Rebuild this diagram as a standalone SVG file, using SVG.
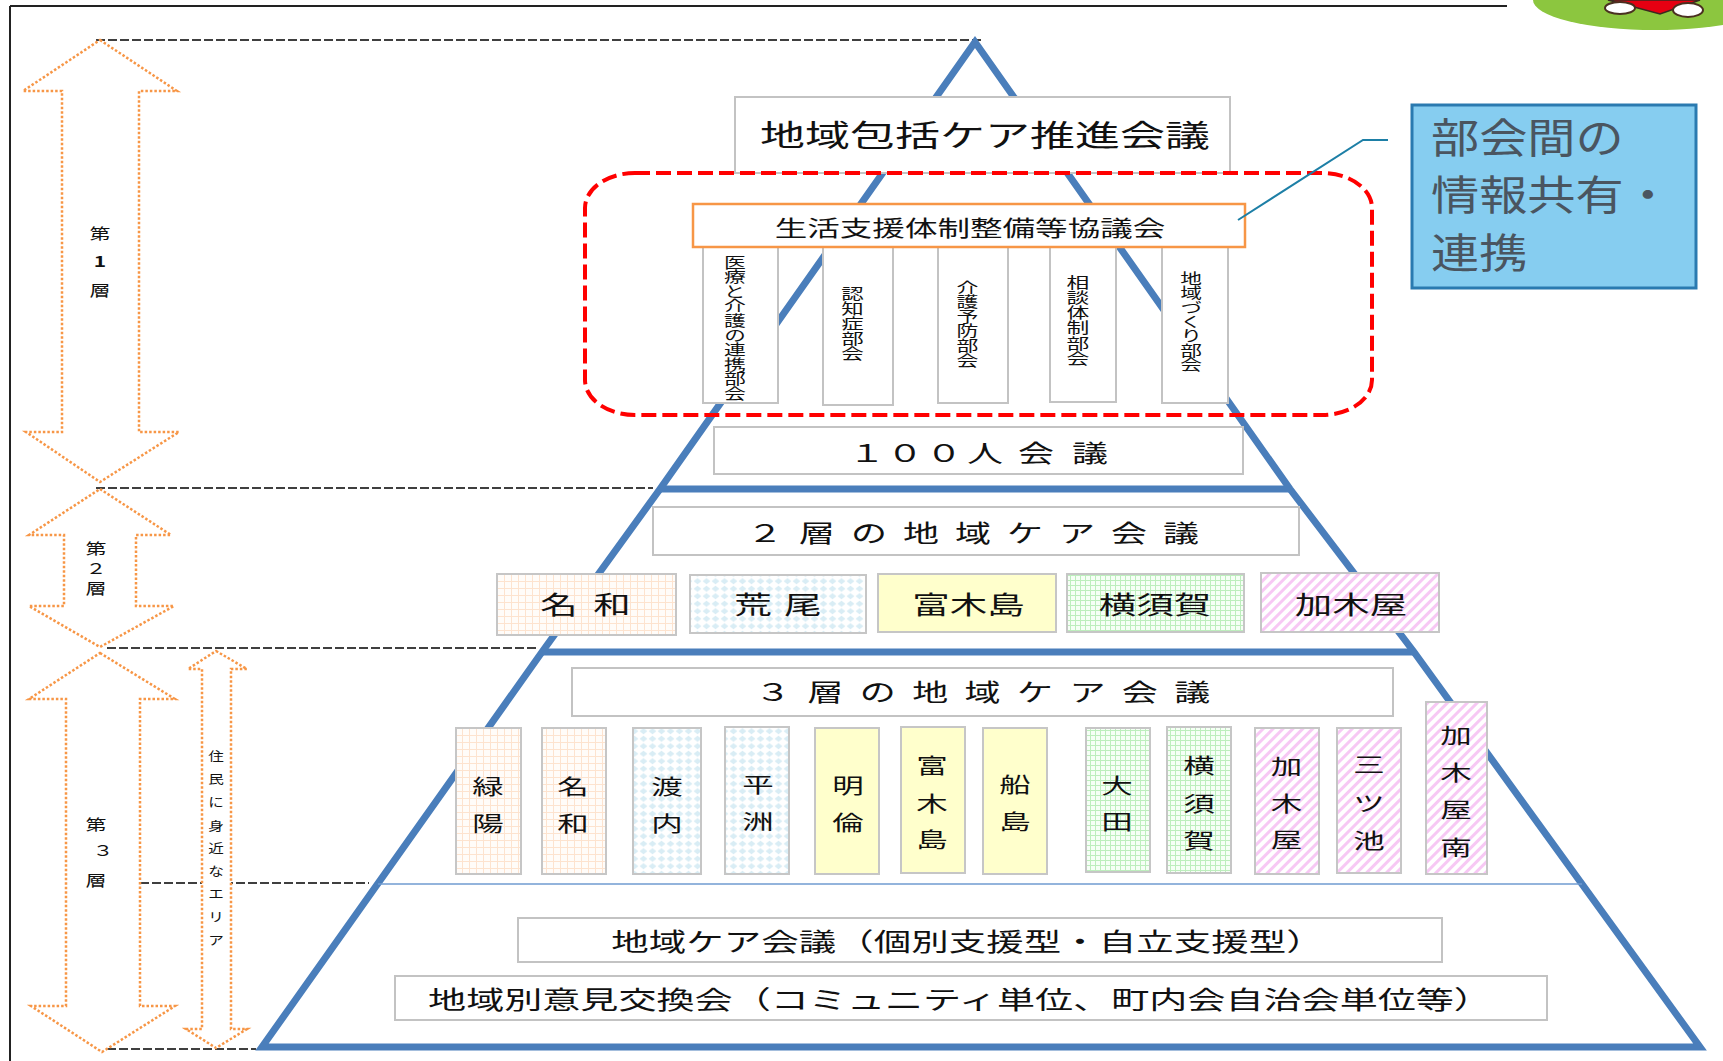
<svg xmlns="http://www.w3.org/2000/svg" width="1723" height="1061" viewBox="0 0 1723 1061">
  <style>
    .t { font-family: "Noto Sans CJK JP", "Noto Sans CJK SC", sans-serif; fill: #111; text-anchor: middle; dominant-baseline: central; }
    .vt { writing-mode: vertical-rl; text-orientation: upright; }
    .box { fill: #fff; stroke: #c3c3c3; stroke-width: 2; }
    .area { stroke: #c6c6c6; stroke-width: 2; }
    .pyr { fill: none; stroke: #4a7ebb; stroke-width: 7; stroke-linejoin: miter; }
    .guide { fill: none; stroke: #000; stroke-width: 1.5; stroke-dasharray: 9 3; }
    .arrow { fill: #fff; stroke: #f79646; stroke-width: 2.5; stroke-dasharray: 2.5 2; }
  </style>
  <defs>
    <pattern id="pGridOrange" width="7" height="7" patternUnits="userSpaceOnUse">
      <rect width="7" height="7" fill="#fffcf9"/>
      <path d="M0.5 0V7M0 0.5H7" stroke="#fde3cf" stroke-width="1"/>
    </pattern>
    <pattern id="pDiamond" width="9" height="7.5" patternUnits="userSpaceOnUse">
      <rect width="9" height="7.5" fill="#fff"/>
      <path d="M4.5 0.6L8.4 3.75L4.5 6.9L0.6 3.75Z" fill="#d9edf5"/>
    </pattern>
    <pattern id="pGridGreen" width="5" height="5" patternUnits="userSpaceOnUse">
      <rect width="5" height="5" fill="#f6fff6"/>
      <path d="M0.5 0V5M0 0.5H5" stroke="#bdeebd" stroke-width="1"/>
    </pattern>
    <pattern id="pStripe" width="7" height="7" patternUnits="userSpaceOnUse" patternTransform="rotate(45)">
      <rect width="7" height="7" fill="#fff"/>
      <rect width="3" height="7" fill="#f7c8f4"/>
    </pattern>
  </defs>

  <!-- page frame -->
  <path d="M10 6H1507M10 6V1061" fill="none" stroke="#222" stroke-width="2"/>

  <!-- mascot at the top right corner -->
  <g id="mascot">
    <ellipse cx="1655" cy="0" rx="122" ry="30" fill="#8cc63f"/>
    <path d="M1608 0H1700L1660 14Z" fill="#e60012" stroke="#3a2a20" stroke-width="1.5"/>
    <ellipse cx="1620" cy="8" rx="15" ry="6" fill="#fff" stroke="#4a3020" stroke-width="2"/>
    <ellipse cx="1688" cy="10" rx="15" ry="7" fill="#fff" stroke="#4a3020" stroke-width="2"/>
  </g>

  <!-- layer boundary guides -->
  <g id="guides">
    <path class="guide" d="M96 40H983"/>
    <path class="guide" d="M96 488H653"/>
    <path class="guide" d="M107 648H538"/>
    <path class="guide" d="M140 883H369"/>
    <path class="guide" d="M107 1049H256"/>
  </g>

  <!-- pyramid outline -->
  <g id="pyramid">
    <path class="pyr" d="M975 42L660 489L542 652L262 1047H1700L1414 652L1290 489Z"/>
    <path class="pyr" d="M660 489H1290M542 652H1414"/>
    <path d="M378 884H1582" stroke="#6f9bd1" stroke-width="1.5"/>
  </g>

  <!-- layer arrows -->
  <g id="layer1-arrow">
    <path class="arrow" d="M100 40L177 91H139V432H179L100 482L26 432H62V91H23Z"/>
    <text class="t" font-size="15" transform="translate(100 0) scale(1.4 1)"><tspan x="0" y="232">第</tspan><tspan x="0" y="260" font-weight="bold">1</tspan><tspan x="0" y="289">層</tspan></text>
  </g>
  <g id="layer2-arrow">
    <path class="arrow" d="M100 489L171 535H136V606H174L100 647L29 606H64V535H29Z"/>
    <text class="t" font-size="15" transform="translate(96 0) scale(1.4 1)"><tspan x="0" y="547">第</tspan><tspan x="0" y="567">２</tspan><tspan x="0" y="587">層</tspan></text>
  </g>
  <g id="layer3-arrow">
    <path class="arrow" d="M100 653L175 699H140V1006H175L102 1052L31 1006H66V699H29Z"/>
    <text class="t" font-size="15" transform="translate(96 0) scale(1.4 1)"><tspan x="0" y="823">第</tspan><tspan x="5" y="849">３</tspan><tspan x="0" y="879">層</tspan></text>
  </g>
  <g id="near-area-arrow">
    <path class="arrow" d="M216 651L247 669H231V1029H247L216 1048L186 1029H202V669H188Z"/>
    <text class="t" font-size="12.5" transform="translate(216 0) scale(1.25 1)"><tspan x="0" y="756">住</tspan><tspan x="0" y="779">民</tspan><tspan x="0" y="802">に</tspan><tspan x="0" y="826">身</tspan><tspan x="0" y="848">近</tspan><tspan x="0" y="871">な</tspan><tspan x="0" y="894">エ</tspan><tspan x="0" y="917">リ</tspan><tspan x="0" y="940">ア</tspan></text>
  </g>

  <!-- layer 1 -->
  <g id="promotion-council">
    <rect class="box" x="735" y="97" width="495" height="76"/>
    <text class="t" font-size="30" transform="translate(985 133) scale(1.5 1)">地域包括ケア推進会議</text>
  </g>

  <g id="sub-committees">
    <g id="sub-medical">
      <rect class="box" x="703" y="240" width="75" height="163"/>
      <text class="t vt" font-size="14.6" transform="translate(735 327.7) scale(1.5 1)">医療と介護の連携部会</text>
    </g>
    <g id="sub-dementia">
      <rect class="box" x="823" y="240" width="70" height="165"/>
      <text class="t vt" font-size="15" transform="translate(852.5 323) scale(1.5 1)">認知症部会</text>
    </g>
    <g id="sub-prevention">
      <rect class="box" x="938" y="240" width="70" height="163"/>
      <text class="t vt" font-size="14.6" transform="translate(967.5 323.5) scale(1.5 1)">介護予防部会</text>
    </g>
    <g id="sub-consultation">
      <rect class="box" x="1050" y="240" width="66" height="162"/>
      <text class="t vt" font-size="15.2" transform="translate(1078 320) scale(1.5 1)">相談体制部会</text>
    </g>
    <g id="sub-community">
      <rect class="box" x="1162" y="240" width="66" height="163"/>
      <text class="t vt" font-size="14.5" transform="translate(1191 321.5) scale(1.5 1)">地域づくり部会</text>
    </g>
  </g>

  <g id="support-council">
    <rect x="693" y="204" width="552" height="43" fill="#fff" stroke="#f79646" stroke-width="2.5"/>
    <text class="t" font-size="21.7" transform="translate(970 227) scale(1.5 1)">生活支援体制整備等協議会</text>
  </g>

  <g id="focus-frame">
    <rect x="585" y="173" width="787" height="242" rx="50" ry="35" fill="none" stroke="#ff0000" stroke-width="4" stroke-dasharray="15 6"/>
  </g>

  <g id="hundred-meeting">
    <rect class="box" x="714" y="427" width="529" height="47"/>
    <text class="t" font-size="24" transform="translate(0 452) scale(1.5 1)" x="578 603.3 629.3 656.7 690.7 726.7" y="0">１００人会議</text>
  </g>

  <!-- layer 2 -->
  <g id="layer2-meeting">
    <rect class="box" x="653" y="507" width="646" height="48"/>
    <text class="t" font-size="24" transform="translate(0 532) scale(1.5 1)" x="510 544.67 579.33 614 648.67 683.33 718 752.67 787.33" y="0">２層の地域ケア会議</text>
  </g>
  <g id="l2-nawa">
    <rect class="area" x="497" y="574" width="179" height="61" fill="url(#pGridOrange)"/>
    <text class="t" font-size="25" transform="translate(0 603) scale(1.5 1)" x="372.67 408" y="0">名和</text>
  </g>
  <g id="l2-arao">
    <rect class="area" x="690" y="575" width="176" height="58" fill="url(#pDiamond)"/>
    <text class="t" font-size="25" transform="translate(0 603) scale(1.5 1)" x="502 535.33" y="0">荒尾</text>
  </g>
  <g id="l2-fukishima">
    <rect class="area" x="878" y="574" width="178" height="58" fill="#ffffcc"/>
    <text class="t" font-size="25" transform="translate(968.5 603) scale(1.5 1)">富木島</text>
  </g>
  <g id="l2-yokosuka">
    <rect class="area" x="1067" y="574" width="177" height="58" fill="url(#pGridGreen)"/>
    <text class="t" font-size="25" transform="translate(1155 603) scale(1.5 1)">横須賀</text>
  </g>
  <g id="l2-kagiya">
    <rect class="area" x="1261" y="573" width="178" height="59" fill="url(#pStripe)"/>
    <text class="t" font-size="25" transform="translate(1351 603) scale(1.5 1)">加木屋</text>
  </g>

  <!-- layer 3 -->
  <g id="layer3-meeting">
    <rect class="box" x="572" y="668" width="821" height="48"/>
    <text class="t" font-size="24" transform="translate(0 691) scale(1.5 1)" x="515.33 550.27 585.2 620.13 655.07 690 724.93 759.87 794.8" y="0">３層の地域ケア会議</text>
  </g>
  <g id="l3-ryokuyo">
    <rect class="area" x="456" y="728" width="65" height="146" fill="url(#pGridOrange)"/>
    <text class="t" font-size="21" transform="translate(488 0) scale(1.5 1)"><tspan x="0" y="785">緑</tspan><tspan x="0" y="822">陽</tspan></text>
  </g>
  <g id="l3-nawa">
    <rect class="area" x="542" y="728" width="64" height="146" fill="url(#pGridOrange)"/>
    <text class="t" font-size="21" transform="translate(573 0) scale(1.5 1)"><tspan x="0" y="785">名</tspan><tspan x="0" y="822">和</tspan></text>
  </g>
  <g id="l3-watauchi">
    <rect class="area" x="633" y="728" width="68" height="146" fill="url(#pDiamond)"/>
    <text class="t" font-size="21" transform="translate(667 0) scale(1.5 1)"><tspan x="0" y="785">渡</tspan><tspan x="0" y="822">内</tspan></text>
  </g>
  <g id="l3-heishu">
    <rect class="area" x="725" y="727" width="64" height="147" fill="url(#pDiamond)"/>
    <text class="t" font-size="21" transform="translate(758 0) scale(1.5 1)"><tspan x="0" y="783">平</tspan><tspan x="0" y="820">洲</tspan></text>
  </g>
  <g id="l3-meirin">
    <rect class="area" x="815" y="728" width="64" height="146" fill="#ffffcc"/>
    <text class="t" font-size="21" transform="translate(848 0) scale(1.5 1)"><tspan x="0" y="784">明</tspan><tspan x="0" y="821">倫</tspan></text>
  </g>
  <g id="l3-fukishima">
    <rect class="area" x="901" y="727" width="64" height="146" fill="#ffffcc"/>
    <text class="t" font-size="21" transform="translate(932 0) scale(1.5 1)"><tspan x="0" y="764">富</tspan><tspan x="0" y="802">木</tspan><tspan x="0" y="838">島</tspan></text>
  </g>
  <g id="l3-funashima">
    <rect class="area" x="983" y="728" width="64" height="146" fill="#ffffcc"/>
    <text class="t" font-size="21" transform="translate(1015 0) scale(1.5 1)"><tspan x="0" y="783">船</tspan><tspan x="0" y="820">島</tspan></text>
  </g>
  <g id="l3-ota">
    <rect class="area" x="1086" y="728" width="64" height="144" fill="url(#pGridGreen)"/>
    <text class="t" font-size="21" transform="translate(1117 0) scale(1.5 1)"><tspan x="0" y="784">大</tspan><tspan x="0" y="820">田</tspan></text>
  </g>
  <g id="l3-yokosuka">
    <rect class="area" x="1167" y="727" width="64" height="146" fill="url(#pGridGreen)"/>
    <text class="t" font-size="21" transform="translate(1199 0) scale(1.5 1)"><tspan x="0" y="764">横</tspan><tspan x="0" y="802">須</tspan><tspan x="0" y="839">賀</tspan></text>
  </g>
  <g id="l3-kagiya">
    <rect class="area" x="1255" y="728" width="64" height="146" fill="url(#pStripe)"/>
    <text class="t" font-size="21" transform="translate(1286.5 0) scale(1.5 1)"><tspan x="0" y="765">加</tspan><tspan x="0" y="802">木</tspan><tspan x="0" y="838">屋</tspan></text>
  </g>
  <g id="l3-mitsuike">
    <rect class="area" x="1337" y="728" width="64" height="145" fill="url(#pStripe)"/>
    <text class="t" font-size="21" transform="translate(1369 0) scale(1.5 1)"><tspan x="0" y="763">三</tspan><tspan x="0" y="802">ツ</tspan><tspan x="0" y="839">池</tspan></text>
  </g>
  <g id="l3-kagiya-minami">
    <rect class="area" x="1426" y="702" width="61" height="172" fill="url(#pStripe)"/>
    <text class="t" font-size="21" transform="translate(1456 0) scale(1.5 1)"><tspan x="0" y="734">加</tspan><tspan x="0" y="771">木</tspan><tspan x="0" y="808">屋</tspan><tspan x="0" y="846">南</tspan></text>
  </g>

  <g id="case-meeting">
    <rect class="box" x="518" y="918" width="924" height="44"/>
    <text class="t" font-size="25" transform="translate(967.5 940) scale(1.5 1)">地域ケア会議（個別支援型・自立支援型）</text>
  </g>
  <g id="district-exchange">
    <rect class="box" x="395" y="976" width="1152" height="44"/>
    <text class="t" font-size="25.4" transform="translate(960 998) scale(1.5 1)">地域別意見交換会（コミュニティ単位、町内会自治会単位等）</text>
  </g>

  <!-- callout -->
  <g id="sharing-note">
    <rect x="1412" y="105" width="284" height="183" fill="#86cdf0" stroke="#2a7ab0" stroke-width="3"/>
    <g class="t" style="text-anchor:start; fill:#4a5560" font-size="39.5">
      <text transform="translate(1431 135) scale(1.22 1.05)">部会間の</text>
      <text transform="translate(1431 192) scale(1.22 1.05)">情報共有・</text>
      <text transform="translate(1431 250) scale(1.22 1.05)">連携</text>
    </g>
  </g>

  <g id="connectors">
    <polyline points="1238,220 1363,140 1388,140" fill="none" stroke="#1d7fa6" stroke-width="2"/>
  </g>
</svg>
